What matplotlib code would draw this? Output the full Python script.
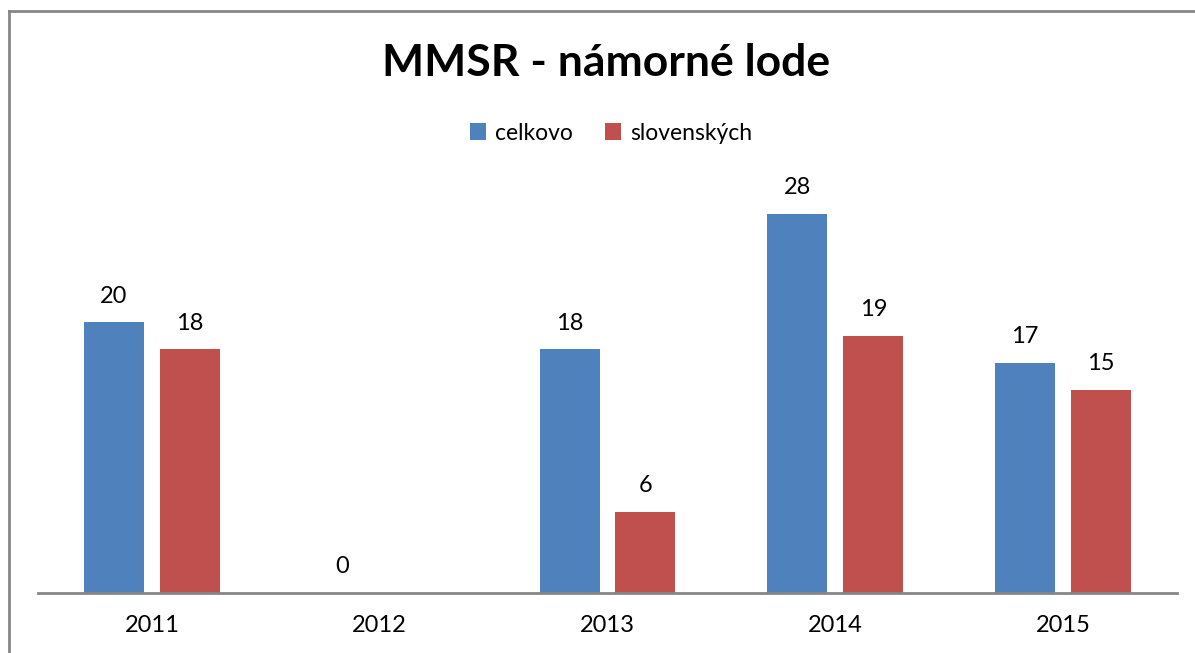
import matplotlib
matplotlib.use("Agg")
import matplotlib.pyplot as plt
import numpy as np

years = ["2011", "2012", "2013", "2014", "2015"]
celkovo = [20, 0, 18, 28, 17]
slovenskych = [18, np.nan, 6, 19, 15]
series_names = ["celkovo", "slovenských"]
colors = ["#4F81BD", "#C0504D"]
title = "MMSR - námorné lode"

plt.rcParams['font.family'] = ['Lato', 'DejaVu Sans']

W, H = 1195, 653
fig = plt.figure(figsize=(W / 100, H / 100), dpi=100)
ax = fig.add_axes([38 / W, 60.3 / H, 1139 / W, 406 / H])

x = np.arange(len(years))
bw = 60 / 228
off = 38 / 228
for vals, name, col, sgn in [(celkovo, series_names[0], colors[0], -1),
                              (slovenskych, series_names[1], colors[1], 1)]:
    v = np.array(vals, dtype=float)
    ax.bar(x + sgn * off, np.nan_to_num(v), width=bw, color=col, label=name)
    for xi, vi in zip(x, v):
        if not np.isnan(vi):
            ax.annotate(f"{int(vi)}", (xi + sgn * off, vi), xytext=(0, 11),
                        textcoords="offset points", ha="center", va="bottom",
                        fontsize=17, color="black")

ax.set_xlim(-0.5, len(years) - 0.5)
ax.set_ylim(0, 30)
ax.set_xticks(x)
ax.set_xticklabels(years, fontsize=17)
ax.tick_params(axis='x', length=0, pad=16)
ax.set_yticks([])
for s in ["top", "right", "left"]:
    ax.spines[s].set_visible(False)
ax.spines["bottom"].set_color("#868686")
ax.spines["bottom"].set_linewidth(2)

fig.text(606 / W, 1 - 63 / H, title, ha="center", va="center",
         fontsize=32, fontweight="bold")

fig.legend(loc="center", bbox_to_anchor=(611 / W, 1 - 133 / H), ncol=2,
           frameon=False, fontsize=16.5, handlelength=0.7, handleheight=0.7,
           handletextpad=0.4, columnspacing=1.4)

# chart border (left and top visible)
fig.add_artist(plt.Line2D([9 / W, 9 / W], [0, 1 - 10.5 / H], transform=fig.transFigure,
                          color="#868686", lw=2))
fig.add_artist(plt.Line2D([9 / W, 1], [1 - 10.5 / H, 1 - 10.5 / H], transform=fig.transFigure,
                          color="#868686", lw=2))

fig.savefig("out.png", dpi=100)
